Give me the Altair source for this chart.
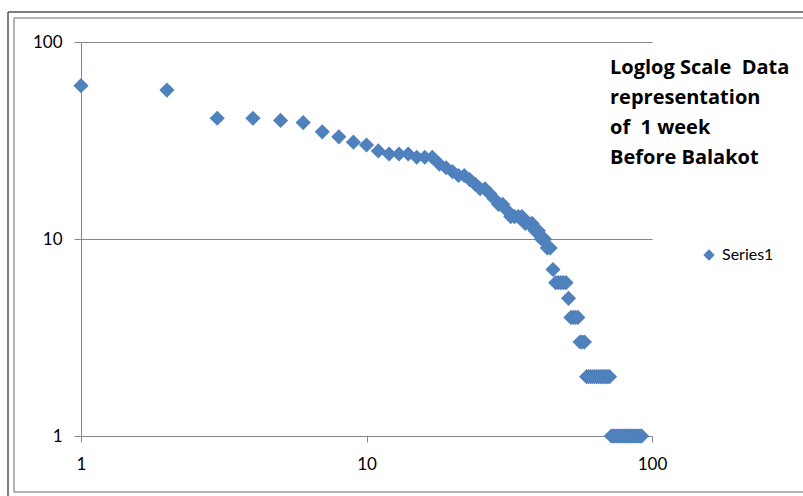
import altair as alt
import pandas as pd

ranks = list(range(1, 93))
counts = ([60, 57, 41, 41, 40, 39, 35, 33, 31, 30,
           28, 27, 27, 27, 26, 26, 26, 24, 23, 22,
           21, 21, 20, 19, 18, 18, 17, 16, 15, 15,
           14, 13, 13, 13, 13, 12, 12, 12, 11, 11,
           10, 10, 9, 9, 7]
          + [6] * 5 + [5] + [4] * 4 + [3] * 3 + [2] * 13 + [1] * 21)
series = ["Series1"] * len(ranks)

title_lines = ["Loglog Scale\u00a0 Data", "representation", "of\u00a0 1 week", "Before Balakot"]

df = pd.DataFrame({"rank": ranks, "count": counts, "series": series})

W, H = 571, 394
BLUE = "#4F81BD"
FONT = "Lato"

points = alt.Chart(df).mark_point(
    shape="diamond", filled=True, size=230, opacity=1
).encode(
    x=alt.X("rank:Q",
            scale=alt.Scale(type="log", domain=[1, 100], nice=False),
            axis=alt.Axis(values=[1, 10, 100], format="d", grid=False,
                          domainColor="#868686", tickColor="#868686",
                          tickSize=6, labelPadding=14, labelFontSize=17,
                          labelFlush=False,
                          labelColor="#000000", labelFont=FONT, title=None)),
    y=alt.Y("count:Q",
            scale=alt.Scale(type="log", domain=[1, 100], nice=False),
            axis=alt.Axis(values=[1, 10, 100], format="d", grid=True,
                          gridColor="#868686", gridWidth=1,
                          domainColor="#868686", tickColor="#868686",
                          tickSize=7, labelPadding=12, labelFontSize=17,
                          labelFlush=False,
                          labelColor="#000000", labelFont=FONT, title=None)),
    color=alt.Color("series:N",
                    scale=alt.Scale(range=[BLUE]),
                    legend=alt.Legend(title=None, orient="none",
                                      legendX=620, legendY=205,
                                      symbolType="diamond", symbolSize=130,
                                      labelFontSize=16, labelFont=FONT,
                                      labelColor="#000000", padding=0,
                                      labelOffset=5))
)

title_df = pd.DataFrame({"t": ["\n".join(title_lines)]})
title_text = alt.Chart(title_df).mark_text(
    align="left", baseline="top", fontSize=20, fontWeight="bold",
    font="Open Sans", lineBreak="\n", lineHeight=30, color="#000000"
).encode(x=alt.value(529), y=alt.value(16), text="t:N")

frame_df = pd.DataFrame({"k": [0]})
base = alt.Chart(frame_df)
frame = alt.layer(
    base.mark_rule(color="#555555", strokeWidth=1.5).encode(
        x=alt.value(-73), x2=alt.value(-73), y=alt.value(-30), y2=alt.value(454)),
    base.mark_rule(color="#555555", strokeWidth=1.5).encode(
        x=alt.value(-73), x2=alt.value(722), y=alt.value(-30), y2=alt.value(-30)),
    base.mark_rule(color="#9a9a9a", strokeWidth=1.5).encode(
        x=alt.value(-67), x2=alt.value(-67), y=alt.value(-24), y2=alt.value(450)),
    base.mark_rule(color="#9a9a9a", strokeWidth=1.5).encode(
        x=alt.value(-67), x2=alt.value(722), y=alt.value(-24), y2=alt.value(-24)),
    base.mark_rule(color="#9a9a9a", strokeWidth=1.5).encode(
        x=alt.value(-67), x2=alt.value(722), y=alt.value(450), y2=alt.value(450)),
)

chart = alt.layer(frame, points, title_text).properties(
    width=W, height=H,
    autosize=alt.AutoSizeParams(type="none"),
    padding={"left": 81, "top": 42, "right": 803 - 81 - W, "bottom": 496 - 42 - H},
    background="#ffffff",
).configure_view(stroke=None)

chart.save("out.html", embed_options={"renderer": "svg", "actions": False})
